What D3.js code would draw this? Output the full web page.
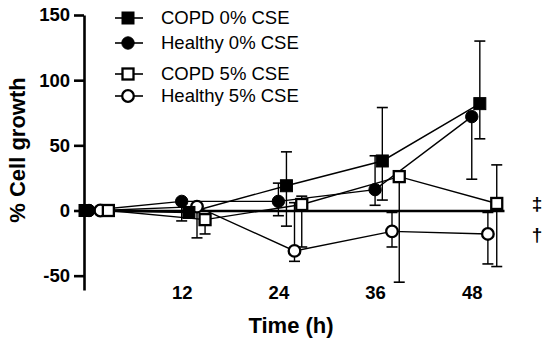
<!DOCTYPE html>
<html><head><meta charset="utf-8">
<script src="https://cdn.jsdelivr.net/npm/d3@7"></script>
<style>
html,body{margin:0;padding:0;background:#fff;}
svg{display:block;font-family:"Liberation Sans",Arial,sans-serif;}
</style></head>
<body><svg id="c" width="550" height="345"></svg>
<script>
// ---- data ----
const seriesNames = ["COPD 0% CSE","Healthy 0% CSE","COPD 5% CSE","Healthy 5% CSE"];
const tickLabelsX = [12,24,36,48];
const tickLabelsY = [-50,0,50,100,150];
// plotted time positions (series are slightly offset in time on the original)
const timesCOPD0 = [0, 12.9, 25, 36.9, 49];
const timesHealthy0 = [0.5, 12, 24, 36, 48];
const timesCOPD5 = [2.9, 14.9, 26.9, 39, 51.1];
const timesHealthy5 = [1.9, 13.9, 26, 38.1, 50];
const copd0 = [0, -1.5, 19, 38, 82];
const copd0Lo = [0, -1.5, -12, 8, 55];
const copd0Hi = [0, -1.5, 45, 79, 130];
const healthy0 = [0, 7, 7, 16, 72];
const healthy0Lo = [0, -8, -4, 4, 24];
const healthy0Hi = [0, 7, 21, 42, 72];
const copd5 = [0, -7, 4.6, 26, 5.4];
const copd5Lo = [0, -18, -28, -55, -43];
const copd5Hi = [0, -7, 11, 26, 35];
const healthy5 = [0, 3, -31, -16, -18];
const healthy5Lo = [0, -21, -39, -28, -41];
const healthy5Hi = [0, 3, 6, -1.5, -1.5];
const sigMarks = [{s:"‡", v:5.4},{s:"†", v:-18}];

const svg = d3.select("#c");
const x = d3.scaleLinear().domain([0,52]).range([85,504]);
const y = d3.scaleLinear().domain([-61,150]).range([290,15]);

// y axis
const gy = svg.append("g").attr("transform","translate(84,0)")
  .call(d3.axisLeft(y).tickValues(tickLabelsY).tickFormat(d=>String(d))
    .tickSize(10).tickSizeOuter(0).tickPadding(4));
gy.select(".domain").attr("stroke","#000").attr("stroke-width",2.6);
gy.selectAll(".tick line").attr("stroke","#000").attr("stroke-width",2.6);
gy.selectAll(".tick text").attr("font-size",18.5).attr("font-weight","bold").attr("fill","#000")
  .attr("font-family","'Liberation Sans',Arial,sans-serif");

// zero line (x axis at y=0)
const gz = svg.append("g").attr("transform",`translate(0,${y(0)})`)
  .call(d3.axisBottom(x).tickValues([]).tickSizeOuter(0));
gz.select(".domain").attr("stroke","#000").attr("stroke-width",2.6);

// x tick labels at bottom
const gx = svg.append("g").attr("transform","translate(0,283)")
  .call(d3.axisBottom(x).tickValues(tickLabelsX).tickSize(0).tickPadding(3));
gx.select(".domain").remove();
gx.selectAll(".tick text").attr("font-size",18.5).attr("font-weight","bold").attr("fill","#000")
  .attr("font-family","'Liberation Sans',Arial,sans-serif");

// axis titles
svg.append("text").attr("x",291).attr("y",333).attr("text-anchor","middle")
  .attr("font-size",22).attr("font-weight","bold").text("Time (h)");
svg.append("text").attr("transform","translate(25,150) rotate(-90)").attr("text-anchor","middle")
  .attr("font-size",22).attr("font-weight","bold").text("% Cell growth");

const series = [
  {name:seriesNames[3], t:timesHealthy5, v:healthy5, lo:healthy5Lo, hi:healthy5Hi, shape:"circle", fill:"#fff"},
  {name:seriesNames[2], t:timesCOPD5, v:copd5, lo:copd5Lo, hi:copd5Hi, shape:"square", fill:"#fff"},
  {name:seriesNames[1], t:timesHealthy0, v:healthy0, lo:healthy0Lo, hi:healthy0Hi, shape:"circle", fill:"#000"},
  {name:seriesNames[0], t:timesCOPD0, v:copd0, lo:copd0Lo, hi:copd0Hi, shape:"square", fill:"#000"}
];

function marker(g, shape, fill, cx, cy){
  if(shape==="circle"){
    g.append("circle").attr("cx",cx).attr("cy",cy).attr("r",fill==="#fff"?5.8:6.2)
      .attr("fill",fill).attr("stroke","#000").attr("stroke-width",fill==="#fff"?2.3:1);
  } else {
    const s = fill==="#fff"?11:12;
    g.append("rect").attr("x",cx-s/2).attr("y",cy-s/2).attr("width",s).attr("height",s)
      .attr("fill",fill).attr("stroke","#000").attr("stroke-width",fill==="#fff"?2.3:1);
  }
}

// lines and error bars
const line = d3.line().x(d=>x(d[0])).y(d=>y(d[1]));
series.forEach(s=>{
  const g = svg.append("g");
  g.append("path").datum(s.t.map((t,i)=>[t,s.v[i]])).attr("d",line)
    .attr("fill","none").attr("stroke","#000").attr("stroke-width",1.4);
  s.t.forEach((t,i)=>{
    const cx = x(t);
    [s.lo[i], s.hi[i]].forEach(e=>{
      if(Math.abs(e - s.v[i])<0.01) return;
      g.append("line").attr("x1",cx).attr("x2",cx).attr("y1",y(s.v[i])).attr("y2",y(e))
        .attr("stroke","#000").attr("stroke-width",1.4);
      g.append("line").attr("x1",cx-5.5).attr("x2",cx+5.5).attr("y1",y(e)).attr("y2",y(e))
        .attr("stroke","#000").attr("stroke-width",1.6);
    });
  });
});
// markers on top
series.forEach(s=>{
  const g = svg.append("g");
  s.t.forEach((t,i)=> marker(g, s.shape, s.fill, x(t), y(s.v[i])));
});

// legend
const legendRows = [
  {name:seriesNames[0], shape:"square", fill:"#000", y:18},
  {name:seriesNames[1], shape:"circle", fill:"#000", y:43},
  {name:seriesNames[2], shape:"square", fill:"#fff", y:74},
  {name:seriesNames[3], shape:"circle", fill:"#fff", y:96}
];
const lg = svg.append("g");
legendRows.forEach(r=>{
  lg.append("line").attr("x1",115).attr("x2",143).attr("y1",r.y).attr("y2",r.y)
    .attr("stroke","#000").attr("stroke-width",1.6);
  marker(lg, r.shape, r.fill, 128, r.y);
  lg.append("text").attr("x",161).attr("y",r.y).attr("dy","0.35em")
    .attr("font-size",18.5).attr("fill","#000").text(r.name);
});

// significance marks
sigMarks.forEach(m=>{
  svg.append("text").attr("x",537).attr("y",y(m.v)).attr("dy","0.35em").attr("text-anchor","middle")
    .attr("font-size",19).attr("font-weight","bold")
    .style("fill","#000").text(m.s);
});
</script></body></html>
